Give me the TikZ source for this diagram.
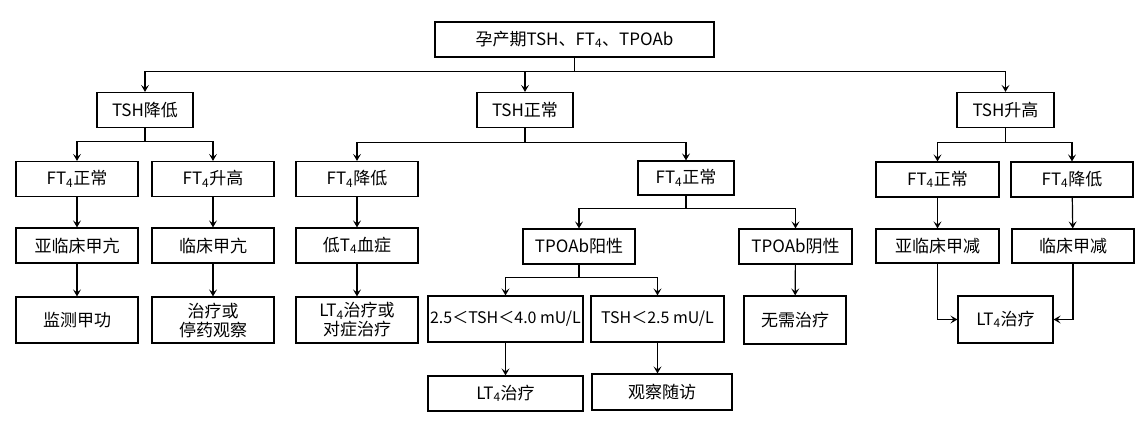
\documentclass[tikz,border=0pt]{standalone}
\usepackage{fontspec}
\setmainfont{Noto Sans CJK SC}
\usepackage{tikz}
\usetikzlibrary{arrows.meta, positioning, calc}

\newcommand{\sub}[1]{\textsubscript{#1}}

\begin{document}
\begin{tikzpicture}[x=1pt, y=-1pt,
  >={Stealth[length=7pt, width=8pt, inset=3pt]}, line width=1.2pt,
  box/.style={draw, line width=1.2pt, minimum width=122pt, minimum height=35pt,
              inner sep=0pt, align=center, font=\fontsize{17}{19}\selectfont},
  tall/.style={box, minimum height=46pt}]
  \useasboundingbox (0,0) rectangle (1142,429);

  % root and first level
  \node[box, minimum width=279pt] (top) at (574.5,39.5) {孕产期TSH、FT\sub{4}、TPOAb};
  \node[box, minimum width=96pt] (tshL) at (145,110) {TSH降低};
  \node[box, minimum width=96pt] (tshN) at (525,110) {TSH正常};
  \node[box, minimum width=97pt] (tshH) at (1005.5,110) {TSH升高};

  % TSH low branch
  \node[box] (ftLa) at (77,179) {FT\sub{4}正常};
  \node[box] (ftLb) at (213,179) {FT\sub{4}升高};
  \node[box] (hyperS) at (77,245.5) {亚临床甲亢};
  \node[box] (hyper) at (213,245.5) {临床甲亢};
  \node[tall] (monitor) at (77,320) {监测甲功};
  \node[tall] (treatStop) at (213,320) {治疗或\\停药观察};

  % TSH normal branch
  \node[box] (ftNa) at (357,179) {FT\sub{4}降低};
  \node[box] (lowT) at (357,245.5) {低T\sub{4}血症};
  \node[tall] (ltSym) at (357,320) {LT\sub{4}治疗或\\对症治疗};
  \node[box, minimum width=96pt, minimum height=34pt] (ftNb) at (686,178) {FT\sub{4}正常};
  \node[box, minimum width=112pt] (tpoP) at (579,246.5) {TPOAb阳性};
  \node[box, minimum width=113pt] (tpoN) at (795.5,246.5) {TPOAb阴性};
  \node[tall, minimum width=155pt, font=\fontsize{16}{19}\selectfont] (rangeA) at (505.5,319) {2.5＜TSH＜4.0 mU/L};
  \node[tall, minimum width=133pt, font=\fontsize{16}{19}\selectfont] (rangeB) at (657.5,319) {TSH＜2.5 mU/L};
  \node[tall, minimum width=102pt, minimum height=48pt] (noneTx) at (795,320) {无需治疗};
  \node[box, minimum width=155pt] (ltA) at (505.5,393.5) {LT\sub{4}治疗};
  \node[box, minimum width=140pt, minimum height=36pt] (follow) at (662,392) {观察随访};

  % TSH high branch
  \node[box, minimum width=123pt] (ftHa) at (937.5,179.5) {FT\sub{4}正常};
  \node[box] (ftHb) at (1072,179.5) {FT\sub{4}降低};
  \node[box, minimum width=123pt, minimum height=34pt] (hypoS) at (937.5,246) {亚临床甲减};
  \node[box, minimum height=34pt] (hypo) at (1073,246) {临床甲减};
  \node[tall, minimum width=95pt, minimum height=47pt] (ltH) at (1005.5,319.5) {LT\sub{4}治疗};

  % forks
  \draw (top.south) -- ++(0,14) coordinate (j0);
  \draw[->] (j0) -| (tshL.north);
  \draw[->] (j0) -| (tshH.north);
  \draw[->] (j0 -| tshN.north) -- (tshN.north);

  \draw (tshL.south) -- ++(0,13) coordinate (j1);
  \draw[->] (j1) -| (ftLa.north);
  \draw[->] (j1) -| (ftLb.north);

  \draw (tshN.south) -- ++(0,14) coordinate (j2);
  \draw[->] (j2) -| (ftNa.north);
  \draw[->] (j2) -| (ftNb.north);

  \draw (tshH.south) -- ++(0,14) coordinate (j3);
  \draw[->] (j3) -| (ftHa.north);
  \draw[->] (j3) -| (ftHb.north);

  \draw (ftNb.south) -- ++(0,13) coordinate (j4);
  \draw[->] (j4) -| (tpoP.north);
  \draw[->] (j4) -| (tpoN.north);

  \draw (tpoP.south) -- ++(0,13) coordinate (j5);
  \draw[->] (j5) -| (rangeA.north);
  \draw[->] (j5) -| (rangeB.north);

  % straight chains
  \draw[->] (ftLa) -- (hyperS);
  \draw[->] (hyperS) -- (monitor);
  \draw[->] (ftLb) -- (hyper);
  \draw[->] (hyper) -- (treatStop);
  \draw[->] (ftNa) -- (lowT);
  \draw[->] (lowT) -- (ltSym);
  \draw[->] (tpoN) -- (noneTx);
  \draw[->] (rangeA) -- (ltA);
  \draw[->] (rangeB.south) -- (rangeB.south |- follow.north);
  \draw[->] (ftHa) -- (hypoS);
  \draw[->] (ftHb) -- (hypo);
  \draw[->] (hypoS.south) |- (ltH.west);
  \draw[->] (hypo.south) |- (ltH.east);
\end{tikzpicture}
\end{document}
